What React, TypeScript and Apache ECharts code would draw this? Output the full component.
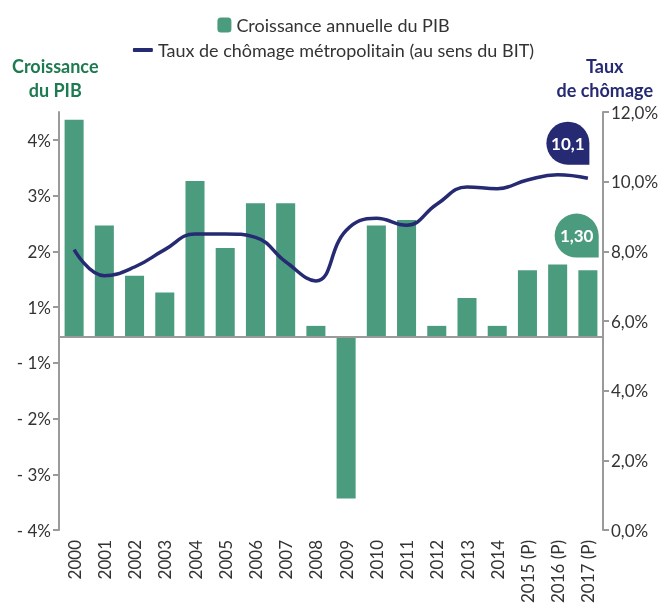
import React, { useEffect, useRef } from "react";
import * as echarts from "echarts";

const categories = ["2000", "2001", "2002", "2003", "2004", "2005", "2006", "2007", "2008", "2009", "2010", "2011", "2012", "2013", "2014", "2015 (P)", "2016 (P)", "2017 (P)"];
const gdpGrowth = [3.9, 2.0, 1.1, 0.8, 2.8, 1.6, 2.4, 2.4, 0.2, -2.9, 2.0, 2.1, 0.2, 0.7, 0.2, 1.2, 1.3, 1.2];
const unemployment = [8.05, 7.3, 7.55, 8.05, 8.5, 8.5, 8.4, 7.7, 7.15, 8.6, 8.95, 8.75, 9.35, 9.85, 9.8, 10.05, 10.2, 10.1];
const gdpName = "Croissance annuelle du PIB";
const unempName = "Taux de chômage métropolitain (au sens du BIT)";

const FONT = "Lato";
const GREEN = "#4b9b7e";
const GREEN_TITLE = "#1e7a50";
const NAVY = "#262a72";
const AXIS = "#9a9a9a";
const TEXT = "#333333";
const BUBBLE = "path://M0,10 A10,10 0 0 1 10,0 A10,10 0 0 1 20,10 L20,20 L10,20 A10,10 0 0 1 0,10 Z";

export default function App() {
  const ref = useRef<HTMLDivElement>(null);
  useEffect(() => {
    if (!ref.current) return;
    const chart = echarts.init(ref.current, null, { renderer: "svg" });
    const gIdx = 16;
    const uIdx = unemployment.length - 1;
    chart.setOption({
      animation: false,
      textStyle: { fontFamily: FONT },
      legend: [
        {
          data: [gdpName],
          top: 11,
          left: "center",
          icon: "roundRect",
          itemWidth: 14,
          itemHeight: 15,
          itemGap: 6,
          textStyle: { fontFamily: FONT, fontSize: 18, color: TEXT },
        },
        {
          data: [unempName],
          top: 36,
          left: "center",
          icon: "roundRect",
          itemWidth: 20,
          itemHeight: 4,
          textStyle: { fontFamily: FONT, fontSize: 18, color: TEXT },
        },
      ],
      grid: { left: 59, right: 64, top: 112, bottom: 82, containLabel: false },
      xAxis: {
        type: "category",
        data: categories,
        axisLine: { show: false },
        axisTick: { show: false },
        axisLabel: { rotate: 90, fontSize: 17, color: TEXT, margin: 10, fontFamily: FONT, interval: 0 },
      },
      yAxis: [
        { type: "value", min: -3.465, max: 4.04, show: false, splitLine: { show: false } },
        {
          type: "value",
          position: "right",
          min: 0,
          max: 12,
          interval: 2,
          splitLine: { show: false },
          axisLine: { show: true, lineStyle: { color: AXIS, width: 2 } },
          axisTick: { show: true, inside: false, length: 6, lineStyle: { color: AXIS, width: 2 } },
          axisLabel: {
            fontSize: 17,
            color: TEXT,
            fontFamily: FONT,
            margin: 8,
            formatter: (v: number) => v.toFixed(1).replace(".", ",") + "%",
          },
        },
        {
          type: "value",
          position: "left",
          min: -3,
          max: 4.505,
          interval: 1,
          splitLine: { show: false },
          axisLine: { show: true, lineStyle: { color: AXIS, width: 2 } },
          axisTick: { show: true, length: 6, lineStyle: { color: AXIS, width: 2 } },
          axisLabel: {
            fontSize: 17,
            color: TEXT,
            fontFamily: FONT,
            margin: 8,
            showMaxLabel: false,
            formatter: (w: number) => {
              const r = Math.round(w);
              if (Math.abs(r - w) > 0.01) return "";
              return r > 0 ? r + "%" : "- " + (1 - r) + "%";
            },
          },
        },
      ],
      series: [
        {
          name: gdpName,
          type: "bar",
          yAxisIndex: 0,
          data: gdpGrowth,
          barCategoryGap: "37%",
          itemStyle: { color: GREEN },
          markLine: {
            silent: true,
            symbol: "none",
            label: { show: false },
            lineStyle: { color: AXIS, width: 2, type: "solid" },
            data: [{ yAxis: 0 }],
          },
          markPoint: {
            symbol: BUBBLE,
            symbolSize: 44,
            symbolOffset: [19, -29],
            itemStyle: { color: GREEN },
            label: {
              show: true,
              color: "#ffffff",
              fontSize: 17,
              fontWeight: "bold",
              fontFamily: FONT,
              formatter: () => gdpGrowth[gIdx].toFixed(2).replace(".", ","),
            },
            data: [{ coord: [categories[gIdx], gdpGrowth[gIdx]], value: gdpGrowth[gIdx] }],
          },
        },
        {
          name: unempName,
          type: "line",
          yAxisIndex: 1,
          data: unemployment,
          smooth: 0.45,
          showSymbol: false,
          symbol: "none",
          lineStyle: { color: NAVY, width: 3.5 },
          itemStyle: { color: NAVY },
          z: 5,
          markPoint: {
            symbol: BUBBLE,
            symbolSize: 43,
            symbolOffset: [-20, -35],
            itemStyle: { color: NAVY },
            label: {
              show: true,
              color: "#ffffff",
              fontSize: 17,
              fontWeight: "bold",
              fontFamily: FONT,
              formatter: () => unemployment[uIdx].toFixed(1).replace(".", ","),
            },
            data: [{ coord: [categories[uIdx], unemployment[uIdx]], value: unemployment[uIdx] }],
          },
        },
      ],
      graphic: [
        {
          type: "text",
          left: 12,
          top: 54,
          style: {
            text: "Croissance\ndu PIB",
            fill: GREEN_TITLE,
            font: `bold 18px ${FONT}`,
            textAlign: "center",
            lineHeight: 24,
            align: "center",
          },
        },
        {
          type: "text",
          right: 14,
          top: 54,
          style: {
            text: "Taux\nde chômage",
            fill: NAVY,
            font: `bold 18px ${FONT}`,
            textAlign: "center",
            lineHeight: 24,
            align: "center",
          },
        },
      ],
    });
    return () => chart.dispose();
  }, []);
  return <div ref={ref} style={{ position: "fixed", left: 0, top: 0, width: 667, height: 612 }} />;
}
